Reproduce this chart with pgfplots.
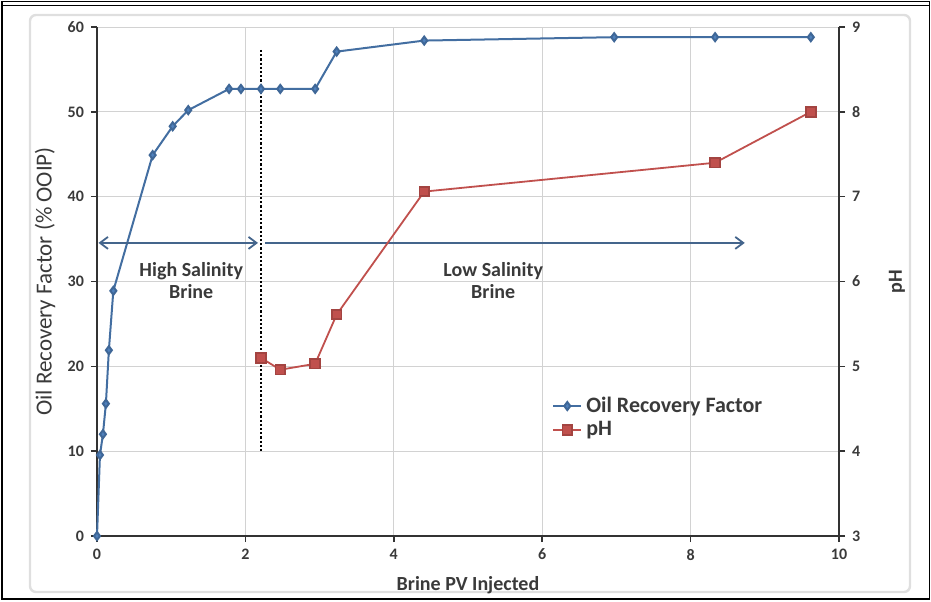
\documentclass[border=0pt]{standalone}
\usepackage{pgfplots}
\pgfplotsset{compat=1.18}
\usepackage{fontspec}
\setmainfont{Carlito}
\usetikzlibrary{arrows.meta}

\definecolor{orfblue}{HTML}{4F81BD}
\definecolor{phred}{HTML}{C0504D}
\definecolor{arrowblue}{HTML}{44658C}
\definecolor{txtgray}{HTML}{3A3A3A}

\pgfplotsset{
  base/.style={
    scale only axis,
    width=371pt, height=254.5pt,
    xmin=0, xmax=10,
    tick label style={font=\bfseries\fontsize{8}{9}\selectfont, text=txtgray},
    /pgf/number format/assume math mode=true,
    axis line style={black!80, line width=0.9pt},
    tick style={black!80, line width=0.8pt},
    major tick length=3pt,
    tick align=outside,
  },
}

\begin{document}
\begin{tikzpicture}
% page size and frame
\path[use as bounding box] (-48.5pt,-32.5pt) rectangle (417pt,268pt);
\draw[gray!25, line width=1.2pt, rounded corners=3pt] (-33.5pt,-28pt) rectangle (406.5pt,260.5pt);
\draw[black, line width=0.8pt] (-47.5pt,-31.5pt) rectangle (416.2pt,267.3pt);
\draw[black, line width=0.6pt] (-47.5pt,265.2pt) -- (416.2pt,265.2pt);

\begin{axis}[base,
  axis x line*=bottom, axis y line*=left,
  ymin=0, ymax=60,
  xtick={0,2,...,10}, ytick={0,10,...,60},
  grid=major,
  grid style={gray!35, line width=0.5pt},
  xlabel={Brine PV Injected},
  ylabel={Oil Recovery Factor (\% OOIP)},
  xlabel style={at={(axis description cs:0.5,-0.096)}, anchor=center, font=\bfseries\fontsize{10}{12}\selectfont, text=txtgray},
  ylabel style={at={(axis description cs:-0.070,0.5)}, anchor=center, font=\fontsize{11.5}{13}\selectfont, text=txtgray},
  clip=false,
]
\addplot[orfblue!85!black, line width=1pt, mark=diamond*, mark size=2pt,
  mark options={fill=orfblue, draw=orfblue!80!black}] coordinates {
  (0,0) (0.04,9.55) (0.08,12.0) (0.12,15.6) (0.16,21.9) (0.22,28.9)
  (0.75,44.9) (1.02,48.3) (1.23,50.2) (1.78,52.7) (1.94,52.7) (2.21,52.7)
  (2.47,52.7) (2.94,52.7) (3.23,57.1) (4.41,58.4) (6.97,58.8) (8.33,58.8) (9.62,58.8)
};
% boundary between the two floods
\draw[black, line width=1.1pt, densely dotted] (axis cs:2.21,57.3) -- (axis cs:2.21,9.8);
\draw[arrowblue, line width=0.9pt, {Straight Barb[length=4pt,width=6pt]}-{Straight Barb[length=4pt,width=6pt]}]
  (axis cs:0.02,34.55) -- (axis cs:2.17,34.55);
\draw[arrowblue, line width=0.9pt, -{Straight Barb[length=4pt,width=6pt]}]
  (axis cs:2.27,34.55) -- (axis cs:8.73,34.55);
\node[align=center, font=\bfseries\fontsize{10}{11}\selectfont, text=txtgray] at (axis cs:1.27,30.1) {High Salinity\\Brine};
\node[align=center, font=\bfseries\fontsize{10}{11}\selectfont, text=txtgray] at (axis cs:5.34,30.1) {Low Salinity\\Brine};
\end{axis}

\begin{axis}[base,
  axis x line=none, axis y line*=right,
  ymin=3, ymax=9, ytick={3,4,...,9},
  ylabel={pH},
  ylabel style={at={(axis description cs:1.078,0.5)}, anchor=center, rotate=0, font=\bfseries\fontsize{10}{12}\selectfont, text=txtgray},
  legend style={at={(axis description cs:0.605,0.29)}, anchor=north west, draw=none, fill=none,
    font=\bfseries\fontsize{11}{12}\selectfont, text=txtgray, row sep=-1pt,
    /tikz/every even column/.append style={column sep=1pt}},
  legend cell align=left,
  legend image code/.code={\draw[mark repeat=2, mark phase=2] plot coordinates {(0pt,0pt) (7pt,0pt) (14pt,0pt)};},
]
\addlegendimage{orfblue!85!black, line width=1pt, mark=diamond*, mark size=2pt,
  mark options={fill=orfblue, draw=orfblue!80!black}}
\addlegendentry{Oil Recovery Factor}
\addplot[phred, line width=0.9pt, mark=square*, mark size=2.4pt,
  mark options={fill=phred, draw=phred!85!black}] coordinates {
  (2.21,5.10) (2.47,4.96) (2.94,5.03) (3.23,5.61) (4.41,7.06) (8.33,7.40) (9.62,8.00)
};
\addlegendentry{pH}
\end{axis}
\end{tikzpicture}
\end{document}
